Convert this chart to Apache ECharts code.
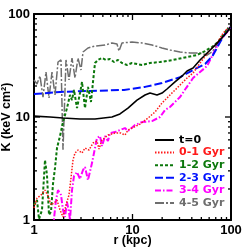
<!DOCTYPE html>
<html><head><meta charset="utf-8">
<script src="https://cdn.jsdelivr.net/npm/echarts@6/dist/echarts.min.js"></script>
<style>html,body{margin:0;padding:0;background:#fff}#c{width:247px;height:247px}</style>
</head><body><div id="c"></div>
<script>
const majorTicks = [1, 10, 100];
const minorTicks = [2,3,4,5,6,7,8,9,20,30,40,50,60,70,80,90];
const seriesNames = ['t=0', '0-1 Gyr', '1-2 Gyr', '2-3 Gyr', '3-4 Gyr', '4-5 Gyr'];
const seriesColors = ['#000000', '#ff1a1a', '#0b770b', '#0010ff', '#ff00ff', '#6e6e6e'];

// [r (kpc), K (keV cm^2)]
const t0 = [[1.0,10.2],[1.454,10.0],[1.970,9.78],[2.931,9.56],[4.161,9.56],[6.190,10.0],[7.461,10.7],[8.996,12.2],[11.11,14.6],[13.40,16.35],[15.06,17.1],[17.74,16.35],[19.94,17.1],[22.41,18.7],[27.0,21.9],[32.62,25.56],[35.82,27.95],[41.21,29.9],[48.5,35.74],[61.4,44.69],[74.0,53.4],[91.4,66.8],[98.0,74.7]];

const g01 = [[1.0,1.31],[1.073,1.63],[1.178,1.75],[1.293,1.95],[1.387,1.71],[1.488,1.40],[1.596,1.46],[1.712,1.56],[1.837,1.25],[1.970,1.07],[2.113,1.40],[2.266,1.75],[2.375,2.56],[2.488,3.82],[2.607,4.47],[2.797,4.78],[3.071,4.47],[3.294,5.0],[3.617,4.78],[3.971,5.59],[4.360,5.84],[4.569,4.89],[4.901,5.97],[5.637,6.68],[6.638,6.98],[7.638,6.98],[8.386,6.68],[8.996,7.47],[10.36,7.99],[11.92,8.54],[14.37,9.77],[16.93,11.18],[19.94,13.67],[24.02,16.35],[30.41,20.44],[35.82,23.9],[41.21,26.73],[48.5,33.42],[61.4,44.69],[72.3,52.25],[83.2,65.3],[93.5,73.05]];

const g12 = [[1.0,1.40],[1.073,1.56],[1.124,1.02],[1.206,1.25],[1.293,3.82],[1.355,2.73],[1.420,1.12],[1.488,1.20],[1.559,2.24],[1.634,3.20],[1.712,5.00],[1.837,6.54],[1.970,8.94],[2.163,12.2],[2.320,16.4],[2.431,14.6],[2.547,18.3],[2.733,12.2],[2.931,17.1],[3.072,21.9],[3.294,12.2],[3.533,19.6],[3.790,14.0],[3.972,21.9],[4.163,33.4],[4.465,35.8],[4.902,37.4],[5.383,35.8],[5.910,36.6],[6.490,34.2],[7.126,35.8],[7.825,33.4],[8.797,32.0],[9.88,33.4],[12.49,32.0],[15.05,33.4],[19.02,34.2],[25.8,35.8],[35.8,38.2],[45.2,40.0],[54.5,43.7],[64.1,47.8],[73.8,53.5],[83.0,62.5],[93.2,73.1]];

const g23 = [[1.0,16.7],[1.837,17.5],[3.702,17.9],[8.2,18.3],[13.40,19.6],[19.94,21.4],[30.41,24.4],[41.21,28.6],[54.6,32.7],[65.8,40.0],[77.6,53.5],[89.3,67.0],[98.0,74.7]];

const g34 = [[1.559,0.84],[1.673,1.56],[1.753,1.95],[1.880,1.75],[1.970,1.25],[2.064,1.07],[2.163,1.49],[2.266,1.20],[2.320,1.0],[2.431,1.95],[2.547,2.67],[2.732,2.92],[2.931,2.50],[3.144,3.06],[3.294,3.27],[3.533,2.44],[3.879,3.57],[4.161,5.0],[4.360,6.25],[4.677,6.53],[4.901,5.22],[5.257,6.53],[5.637,5.84],[5.907,6.98],[6.638,7.14],[7.461,7.47],[8.386,7.81],[8.996,7.30],[10.60,8.35],[12.49,8.93],[15.78,9.13],[19.03,10.0],[21.39,11.69],[24.02,12.5],[30.41,15.64],[34.99,19.1],[41.21,23.9],[48.5,27.3],[57.2,31.25],[65.8,40.86],[77.6,55.87],[91.4,66.8],[98.0,74.7]];

const g45 = [[1.0,22.9],[1.073,20.9],[1.151,25.0],[1.234,15.6],[1.324,27.3],[1.420,15.3],[1.523,27.3],[1.634,16.4],[1.753,34.2],[1.880,35.8],[1.970,4.8],[2.113,35.8],[2.266,22.9],[2.431,37.4],[2.608,23.9],[2.797,37.4],[3.0,28.6],[3.145,42.8],[3.533,46.8],[4.163,48.9],[5.26,50.0],[6.19,52.3],[6.96,51.2],[7.29,43.7],[7.82,52.3],[9.88,53.5],[12.49,52.3],[15.8,50.0],[19.9,46.8],[24.0,44.7],[30.4,42.8],[38.4,41.8],[48.4,41.8],[57.1,40.0],[64.1,42.8],[72.1,50.0],[83.0,59.8],[93.2,73.1],[97.7,76.4]];

const seriesData = [t0, g01, g12, g23, g34, g45];
const lineTypes = ['solid', [1.5,1.5], [3,2], [8,3], [6,2,1.5,2], [9,2,2,2]];
const lineWidths = [1.6, 1.5, 2, 2, 2, 1.5];

const FONT = 'Liberation Sans';

function mkAxis(pos, showLabel, name) {
  const ax = {
    type: 'log', logBase: 10, min: 1, max: 100, position: pos,
    axisLine: { show: true, onZero: false, lineStyle: { color: '#000', width: 2 } },
    axisTick: { show: false },
    axisLabel: { show: showLabel, customValues: majorTicks, formatter: v => String(Math.round(v)),
      color: '#000', fontFamily: FONT, fontWeight: 'bold', fontSize: 13, margin: 4 },
    splitLine: { show: false }, minorTick: { show: false }, minorSplitLine: { show: false }
  };
  if (name) {
    ax.name = name; ax.nameLocation = 'middle'; ax.nameMoveOverlap = false;
    ax.nameTextStyle = { color: '#000', fontFamily: FONT, fontWeight: 'bold', fontSize: 12.5 };
  }
  return ax;
}

const xa0 = mkAxis('bottom', true, 'r (kpc)'); xa0.nameGap = 14.5;
const ya0 = mkAxis('left', true, 'K (keV cm²)'); ya0.nameGap = 21;

// tick marks: [value, value, isMajor, side(0=bottom,1=top,2=left,3=right)]
const tickData = [];
[[majorTicks, 1], [minorTicks, 0]].forEach(([vals, m]) => {
  vals.forEach(v => { for (let s = 0; s < 4; s++) tickData.push([v, v, m, s]); });
});
const TW = 1.3;

const option = {
  animation: false,
  backgroundColor: '#fff',
  grid: { left: 34, right: 16, top: 14, bottom: 27, containLabel: false, outerBoundsMode: 'none' },
  xAxis: [xa0, mkAxis('top', false)],
  yAxis: [ya0, mkAxis('right', false)],
  legend: {
    orient: 'vertical', left: 149, top: 129, padding: 5, itemWidth: 19, itemHeight: 10, itemGap: 0.6,
    itemStyle: { opacity: 0 },
    textStyle: { fontFamily: 'DejaVu Sans', fontWeight: 'bold', fontSize: 11, lineHeight: 12 },
    data: seriesNames.map((n, i) => ({ name: n, textStyle: { color: seriesColors[i] } }))
  },
  series: [{
    name: 'ticks', type: 'custom', xAxisIndex: 0, yAxisIndex: 0, silent: true, z: 20, clip: false,
    data: tickData, encode: { x: 0, y: 1 },
    renderItem: function (params, api) {
      const v = api.value(0), major = api.value(2), side = api.value(3);
      const len = major ? 6 : 3;
      const cs = params.coordSys;
      let shape;
      if (side === 0 || side === 1) {
        const px = api.coord([v, 10])[0];
        const y0 = side === 0 ? cs.y + cs.height - len : cs.y;
        shape = { x: px - TW / 2, y: y0, width: TW, height: len };
      } else {
        const py = api.coord([10, v])[1];
        const x0 = side === 2 ? cs.x : cs.x + cs.width - len;
        shape = { x: x0, y: py - TW / 2, width: len, height: TW };
      }
      return { type: 'rect', shape: shape, style: { fill: '#000' } };
    }
  }].concat(seriesNames.map((n, i) => ({
    name: n, type: 'line', xAxisIndex: 0, yAxisIndex: 0, symbol: 'none',
    data: seriesData[i], z: 10 - i,
    lineStyle: { color: seriesColors[i], width: lineWidths[i], type: lineTypes[i] },
    itemStyle: { color: seriesColors[i] }
  })))
};
const chart = echarts.init(document.getElementById('c'), null, { renderer: 'canvas' });
chart.setOption(option);
</script></body></html>
